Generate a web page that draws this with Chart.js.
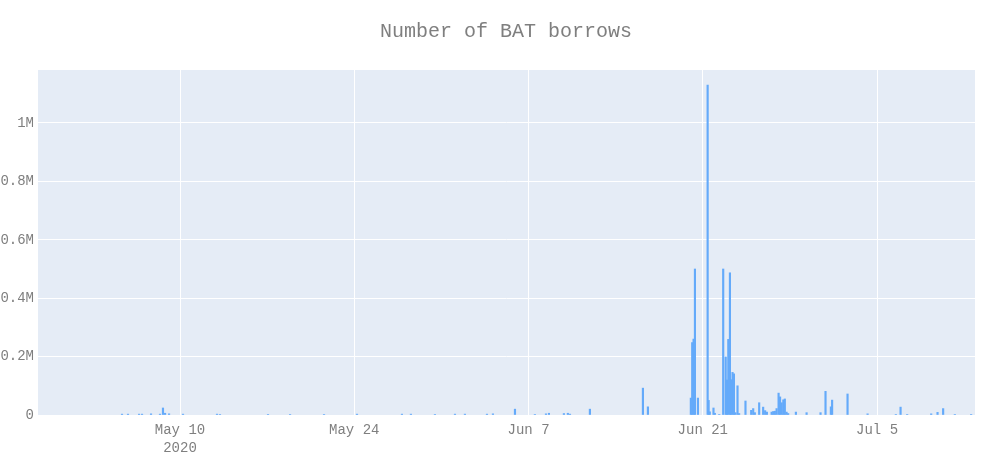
<!DOCTYPE html>
<html>
<head>
<meta charset="utf-8">
<script src="https://cdn.jsdelivr.net/npm/chart.js@4/dist/chart.umd.min.js"></script>
<style>
html,body{margin:0;padding:0;background:#fff;}
#wrap{width:1002px;height:465px;}
</style>
</head>
<body>
<div id="wrap"><canvas id="c" width="1002" height="465"></canvas></div>
<script>
// Days since May 10, 2020 (fractional) for each bin
const days = [
 -4.66,-4.18,-3.29,-3.05,-2.33,-1.61,-1.37,-1.20,-0.88,0.24,2.97,3.21,7.07,8.84,11.57,14.22,
 17.83,18.55,20.48,22.09,22.89,24.66,25.14,26.91,28.51,29.40,29.64,30.84,31.16,31.33,32.93,
 37.19,37.59,41.04,41.15,41.26,41.37,41.61,42.39,42.47,42.56,42.86,42.97,43.32,
 43.64,43.84,43.94,44.05,44.18,44.28,44.39,44.50,44.62,44.79,44.92,45.43,45.89,46.05,46.18,
 46.53,46.85,47.01,47.15,47.53,47.66,47.79,47.93,48.09,48.21,48.34,48.47,48.59,48.73,48.86,
 49.48,50.34,51.46,51.86,52.29,52.39,53.63,55.24,57.51,57.89,58.42,60.35,60.86,61.31,62.25,63.56
];
// Number of borrows per bin
const borrows = [
 3000,3000,3000,3000,4000,3000,24000,6000,4000,3000,3000,2000,2000,2000,2000,3000,
 3000,3000,2000,3000,3000,3000,4000,20000,2000,4000,6000,5000,6000,3000,20000,
 92000,28000,58000,248000,260000,500000,58000,1130000,50000,11000,24000,6000,2000,
 500000,199000,120000,259000,487000,121000,146000,141000,8000,100000,5000,48000,16000,22000,8000,
 42000,27000,15000,10000,10000,12000,13000,22000,75000,62000,42000,52000,55000,10000,5000,
 10000,8000,8000,81000,28000,51000,72000,4000,2000,27000,2000,4000,9000,22000,2000,2000
];
const xTickVals = [0, 14, 28, 42, 56];
const xTickLabels = [["May 10","2020"], "May 24", "Jun 7", "Jun 21", "Jul 5"];
const yTickVals = [0, 200000, 400000, 600000, 800000, 1000000];
const yTickLabels = ["0", "0.2M", "0.4M", "0.6M", "0.8M", "1M"];
const titleText = 'Number of BAT borrows';
const xMin = -11.41, xMax = 63.87;
const yMax = 1181500;

const points = days.map((d, i) => ({x: d, y: borrows[i]}));

const font = "'Liberation Mono', 'Courier New', monospace";

const bgPlugin = {
  id: 'bg',
  beforeDraw(chart) {
    const {ctx, chartArea: a} = chart;
    ctx.save();
    ctx.fillStyle = '#E5ECF6';
    ctx.fillRect(a.left, a.top, a.right - a.left, a.bottom - a.top);
    ctx.restore();
  },
  afterDraw(chart) {
    const ctx = chart.ctx;
    ctx.save();
    ctx.fillStyle = '#7f7f7f';
    ctx.font = "20px " + font;
    ctx.textAlign = 'center';
    ctx.textBaseline = 'middle';
    ctx.fillText(titleText, 506, 32);
    ctx.restore();
  }
};

new Chart(document.getElementById('c'), {
  type: 'bar',
  data: {
    datasets: [{
      data: points,
      backgroundColor: '#64aafa',
      borderWidth: 0,
      barThickness: 1.5
    }]
  },
  options: {
    responsive: false,
    animation: false,
    layout: {padding: {left: 0, right: 27, top: 70, bottom: 0}},
    plugins: {
      legend: {display: false},
      tooltip: {enabled: false},
      title: {display: false}
    },
    scales: {
      x: {
        type: 'linear',
        offset: false,
        min: xMin,
        max: xMax,
        afterBuildTicks(scale) { scale.ticks = xTickVals.map(v => ({value: v})); },
        afterFit(scale) { scale.height = 50; },
        ticks: {
          callback(v) { const i = xTickVals.indexOf(v); return i >= 0 ? xTickLabels[i] : ''; },
          color: '#7f7f7f',
          font: {family: font, size: 14, lineHeight: 1.3},
          padding: 6,
          maxRotation: 0,
          autoSkip: false
        },
        grid: {color: '#ffffff', lineWidth: 1, drawTicks: false, offset: false},
        border: {display: false}
      },
      y: {
        min: 0,
        max: yMax,
        afterBuildTicks(scale) { scale.ticks = yTickVals.map(v => ({value: v})); },
        afterFit(scale) { scale.width = 38; },
        ticks: {
          callback(v) { const i = yTickVals.indexOf(v); return i >= 0 ? yTickLabels[i] : ''; },
          color: '#7f7f7f',
          font: {family: font, size: 14},
          padding: 4,
          includeBounds: false
        },
        grid: {color: '#ffffff', lineWidth: 1, drawTicks: false},
        border: {display: false}
      }
    }
  },
  plugins: [bgPlugin]
});
</script>
</body>
</html>
